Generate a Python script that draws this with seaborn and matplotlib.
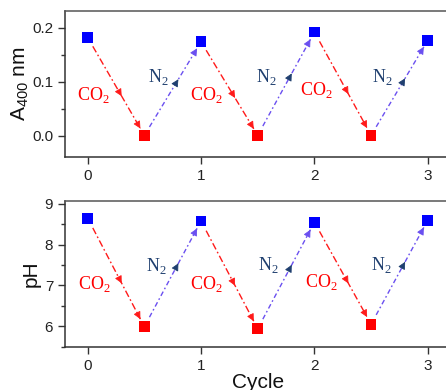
import numpy as np
import pandas as pd
import matplotlib
matplotlib.use("Agg")
import matplotlib.pyplot as plt
import seaborn as sns

cycle = [0, 0.5, 1, 1.5, 2, 2.5, 3]
absorb = [0.182, 0.001, 0.174, 0.001, 0.192, 0.001, 0.177]
ph = [8.65, 5.99, 8.58, 5.94, 8.55, 6.05, 8.60]
state = ["N2", "CO2", "N2", "CO2", "N2", "CO2", "N2"]

top_co2_pos = [(0.05, 0.076), (1.05, 0.076), (2.02, 0.085)]
top_n2_pos = [(0.62, 0.109), (1.58, 0.109), (2.6, 0.109)]
bot_co2_pos = [(0.06, 7.04), (1.05, 7.04), (2.06, 7.09)]
bot_n2_pos = [(0.61, 7.48), (1.59, 7.5), (2.59, 7.5)]

sns.set_style("ticks")
plt.rcParams["font.family"] = ["Liberation Sans", "DejaVu Sans"]
plt.rcParams["mathtext.fontset"] = "custom"
plt.rcParams["mathtext.rm"] = "Liberation Sans"

df = pd.DataFrame({"cycle": cycle, "absorb": absorb, "ph": ph, "state": state})
palette = {"N2": "#0000ff", "CO2": "#ff0000"}

fig = plt.figure(figsize=(4.46, 3.90), dpi=100)
ax1 = fig.add_axes([65/446, 1-157/390, 1-65/446+0.01, 146/390])
ax2 = fig.add_axes([65/446, 1-346.7/390, 1-65/446+0.01, 145.7/390])

RED = "#ff1a1a"
VIO = "#6a4ff0"
NAVY = "#1f3f6f"


def draw_arrows(ax, xs, ys):
    for i in range(len(xs) - 1):
        x0, y0, x1, y1 = xs[i], ys[i], xs[i+1], ys[i+1]
        down = y1 < y0
        lc = RED if down else VIO
        mc = RED if down else NAVY
        ls = (0, (5, 2, 1.2, 2)) if down else (0, (3.5, 2, 1.2, 2))
        ta, tb = 0.09, 0.93
        sx, sy = x0 + ta*(x1-x0), y0 + ta*(y1-y0)
        ex, ey = x0 + tb*(x1-x0), y0 + tb*(y1-y0)
        ax.plot([sx, ex], [sy, ey], color=lc, lw=1.0, linestyle=ls, zorder=2)
        for t, c in [(0.6, mc), (tb, lc)]:
            tx, ty = x0 + t*(x1-x0), y0 + t*(y1-y0)
            bx, by = x0 + (t-0.05)*(x1-x0), y0 + (t-0.05)*(y1-y0)
            ax.annotate("", xy=(tx, ty), xytext=(bx, by),
                        arrowprops=dict(arrowstyle="-|>", color=c, lw=0.6,
                                        shrinkA=0, shrinkB=0, mutation_scale=11),
                        zorder=3)


for ax, col in [(ax1, "absorb"), (ax2, "ph")]:
    draw_arrows(ax, cycle, df[col].tolist())
    sns.scatterplot(data=df, x="cycle", y=col, hue="state", palette=palette,
                    marker="s", s=60, edgecolor="none", legend=False, ax=ax, zorder=4)

for (x, y) in top_co2_pos:
    ax1.text(x, y, r"CO$_{\mathregular{2}}$", color="#ff0000", fontsize=13,
             family="Liberation Serif", ha="center", va="center")
for (x, y) in top_n2_pos:
    ax1.text(x, y, r"N$_{\mathregular{2}}$", color=NAVY, fontsize=13,
             family="Liberation Serif", ha="center", va="center")
for (x, y) in bot_co2_pos:
    ax2.text(x, y, r"CO$_{\mathregular{2}}$", color="#ff0000", fontsize=13,
             family="Liberation Serif", ha="center", va="center")
for (x, y) in bot_n2_pos:
    ax2.text(x, y, r"N$_{\mathregular{2}}$", color=NAVY, fontsize=13,
             family="Liberation Serif", ha="center", va="center")

ax1.set_xlim(-0.2, 3.2)
ax2.set_xlim(-0.2, 3.2)
ax1.set_ylim(-0.039, 0.231)
ax2.set_ylim(5.51, 9.07)
ax1.set_yticks([0.0, 0.1, 0.2])
ax1.set_yticks([0.05, 0.15], minor=True)
ax2.set_yticks([6, 7, 8, 9])
ax2.set_yticks([5.5, 6.5, 7.5, 8.5], minor=True)
ax1.set_yticklabels(["0.0", "0.1", "0.2"])
for ax in (ax1, ax2):
    ax.set_xticks([0, 1, 2, 3])
    ax.set_xticklabels(["0", "1", "2", "3"])
    ax.tick_params(axis="both", which="major", direction="out", length=5, width=1,
                   labelsize=11, colors="#333333", labelcolor="#222222")
    ax.tick_params(axis="y", which="minor", direction="out", length=3, width=1,
                   colors="#333333")
    for s in ("left", "bottom", "top"):
        ax.spines[s].set_visible(True)
        ax.spines[s].set_color("#333333")
        ax.spines[s].set_linewidth(1.1)
    ax.spines["top"].set_color("#555555")
    ax.spines["right"].set_visible(False)
    ax.set_xlabel("")

ax1.set_ylabel(r"A$_{\mathregular{400}}$ nm", fontsize=15, color="#111111", labelpad=1)
ax2.set_ylabel("pH", fontsize=15, color="#111111", labelpad=3)
ax2.set_xlabel("Cycle", fontsize=15, color="#111111", labelpad=0)

fig.savefig("out.png", dpi=100)
